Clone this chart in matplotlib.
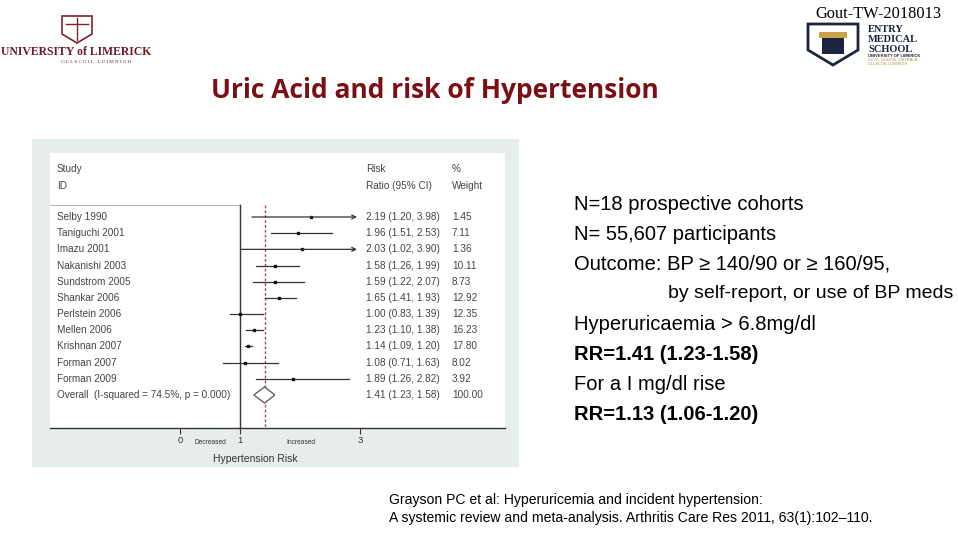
import matplotlib
matplotlib.use("Agg")
import matplotlib.pyplot as plt
import matplotlib.transforms as mtransforms
from matplotlib.patches import Rectangle, Polygon

# ---------------- data ----------------
studies = ["Selby 1990", "Taniguchi 2001", "Imazu 2001", "Nakanishi 2003",
           "Sundstrom 2005", "Shankar 2006", "Perlstein 2006", "Mellen 2006",
           "Krishnan 2007", "Forman 2007", "Forman 2009"]
rr = [2.19, 1.96, 2.03, 1.58, 1.59, 1.65, 1.00, 1.23, 1.14, 1.08, 1.89]
lo = [1.20, 1.51, 1.02, 1.26, 1.22, 1.41, 0.83, 1.10, 1.09, 0.71, 1.26]
hi = [3.98, 2.53, 3.90, 1.99, 2.07, 1.93, 1.39, 1.38, 1.20, 1.63, 2.82]
weights = ["1.45", "7.11", "1.36", "10.11", "8.73", "12.92", "12.35",
           "16.23", "17.80", "8.02", "3.92"]
overall_label = "Overall  (I-squared = 74.5%, p = 0.000)"
overall_rr, overall_lo, overall_hi = 1.41, 1.23, 1.58
overall_weight = "100.00"
x_ticks = [0, 1, 3]
x_clip = 2.95

bullets = [
    ("N=18 prospective cohorts", False, 574, 14.5),
    ("N= 55,607 participants", False, 574, 14.5),
    ("Outcome: BP \u2265 140/90 or \u2265 160/95,", False, 574, 14.5),
    ("by self-report, or use of BP meds", False, 668, 14.0),
    ("Hyperuricaemia > 6.8mg/dl", False, 574, 14.5),
    ("RR=1.41 (1.23-1.58)", True, 574, 14.5),
    ("For a I mg/dl rise", False, 574, 14.5),
    ("RR=1.13 (1.06-1.20)", True, 574, 14.5),
]

W, H = 958, 540
fig = plt.figure(figsize=(W / 100, H / 100), dpi=100)
fig.patch.set_facecolor("white")

# pixel-coordinate overlay
bg = fig.add_axes([0, 0, 1, 1])
bg.set_xlim(0, W)
bg.set_ylim(H, 0)
bg.axis("off")

SANS = ["Liberation Sans", "DejaVu Sans"]

# title
bg.text(211, 91, "Uric Acid and risk of Hypertension", color="#7a1015",
        fontsize=19, fontweight="bold", family=["Open Sans", "DejaVu Sans"],
        va="center", ha="left")
bg.text(942, 14, "Gout-TW-2018013", family=["Liberation Serif"], fontsize=11.8,
        ha="right", va="center", color="black")

# University of Limerick logo (approximation)
crest = Polygon([[62, 16], [92, 16], [92, 34], [77, 43], [62, 34]], closed=True,
                facecolor="white", edgecolor="#7a2433", lw=1.2)
bg.add_patch(crest)
bg.plot([66, 88], [24, 24], color="#7a2433", lw=1)
bg.plot([77, 77], [18, 40], color="#7a2433", lw=1)
bg.text(76, 52, "UNIVERSITY of LIMERICK", family=["Liberation Serif"],
        fontsize=8.5, fontweight="bold", color="#6b1d2a", ha="center", va="center")
bg.text(96, 62, "O L L S C O I L   L U I M N I G H", family=["Liberation Serif"],
        fontsize=3.6, color="#6b1d2a", ha="center", va="center")

# Entry medical school logo (approximation)
shield = Polygon([[808, 24], [858, 24], [858, 50], [833, 65], [808, 50]], closed=True,
                 facecolor="white", edgecolor="#1d2440", lw=2)
bg.add_patch(shield)
bg.add_patch(Rectangle((822, 32), 22, 22, facecolor="#1d2440", edgecolor="none"))
bg.add_patch(Rectangle((819, 32), 28, 6, facecolor="#c9a24a", edgecolor="none"))
for i, t in enumerate(["ENTRY", "MEDICAL", "SCHOOL"]):
    bg.text(868, 30 + i * 10, t, family=["Liberation Serif"], fontsize=7.5,
            fontweight="bold", color="#1d2440", ha="left", va="center")
bg.text(868, 56, "UNIVERSITY OF LIMERICK", family=SANS, fontsize=3.0,
        fontweight="bold", color="#1d2440", ha="left", va="center")
bg.text(868, 60, "SCOIL LEIGHIS IONTRÁLA", family=SANS, fontsize=2.8,
        color="#b09040", ha="left", va="center")
bg.text(868, 64, "OLLSCOIL LUIMNIGH", family=SANS, fontsize=2.8,
        color="#b09040", ha="left", va="center")

# forest plot background
bg.add_patch(Rectangle((32, 139), 487, 328, facecolor="#e7eded", edgecolor="none", zorder=0))
bg.add_patch(Rectangle((50, 153), 455, 275, facecolor="white", edgecolor="none", zorder=0.5))

# forest axes: pixel x = 240 + (x-1)*60 ; rows at 217 + i*16.18
px0, px1 = 50, 505
py_top, py_bot = 153, 428
row0, drow = 217, 16.18
xl = 1 + (px0 - 240) / 60
xr = 1 + (px1 - 240) / 60
yt = (py_top - row0) / drow
yb = (py_bot - row0) / drow
ax = fig.add_axes([px0 / W, (H - py_bot) / H, (px1 - px0) / W, (py_bot - py_top) / H])
ax.patch.set_alpha(0)
ax.set_xlim(xl, xr)
ax.set_ylim(yb, yt)
for s in ["left", "right", "top"]:
    ax.spines[s].set_visible(False)
ax.spines["bottom"].set_color("#333333")
ax.spines["bottom"].set_linewidth(1.0)
ax.set_yticks([])
ax.set_xticks(x_ticks)
ax.set_xticklabels([str(t) for t in x_ticks], fontsize=6.8, family=SANS, color="#333333")
ax.tick_params(axis="x", length=4, width=0.8, color="#333333", pad=2)

tr = mtransforms.blended_transform_factory(bg.transData, ax.transData)
txtc = "#444444"
fs = 7.2

# header
ax.text(57, -2.95, "Study", transform=tr, fontsize=fs, color=txtc, family=SANS, va="center")
ax.text(57, -1.9, "ID", transform=tr, fontsize=fs, color=txtc, family=SANS, va="center")
ax.text(366, -2.95, "Risk", transform=tr, fontsize=fs, color=txtc, family=SANS, va="center")
ax.text(366, -1.9, "Ratio (95% CI)", transform=tr, fontsize=fs, color=txtc, family=SANS, va="center")
ax.text(452, -2.95, "%", transform=tr, fontsize=fs, color=txtc, family=SANS, va="center")
ax.text(452, -1.9, "Weight", transform=tr, fontsize=fs, color=txtc, family=SANS, va="center")

# header separator and null line
ax.plot([xl, 1], [-0.75, -0.75], color="#bbbbbb", lw=0.8)
ax.plot([1, 1], [-0.75, yb], color="#333333", lw=1.0)
ax.plot([overall_rr, overall_rr], [-0.75, yb], color="#b04848", lw=1.0,
        ls=(0, (2, 1.5)))

for i, name in enumerate(studies):
    ax.text(57, i, name, transform=tr, fontsize=fs, color=txtc, family=SANS, va="center")
    ax.text(366, i, f"{rr[i]:.2f} ({lo[i]:.2f}, {hi[i]:.2f})", transform=tr,
            fontsize=fs, color=txtc, family=SANS, va="center")
    ax.text(452, i, weights[i], transform=tr, fontsize=fs, color=txtc, family=SANS, va="center")
    if hi[i] > x_clip:
        ax.annotate("", xy=(x_clip, i), xytext=(lo[i], i),
                    arrowprops=dict(arrowstyle="->", color="#333333", lw=0.9,
                                    shrinkA=0, shrinkB=0, mutation_scale=7))
    else:
        ax.plot([lo[i], hi[i]], [i, i], color="#333333", lw=0.9)
    ax.plot(rr[i], i, marker="s", ms=1.5, color="#111111", mec="#111111")

k = len(studies)
ax.text(57, k, overall_label, transform=tr, fontsize=fs, color=txtc, family=SANS, va="center")
ax.text(366, k, f"{overall_rr:.2f} ({overall_lo:.2f}, {overall_hi:.2f})", transform=tr,
        fontsize=fs, color=txtc, family=SANS, va="center")
ax.text(452, k, overall_weight, transform=tr, fontsize=fs, color=txtc, family=SANS, va="center")
dia = Polygon([[overall_lo, k], [overall_rr, k - 0.5], [overall_hi, k], [overall_rr, k + 0.5]],
              closed=True, facecolor="white", edgecolor="#555555", lw=0.9, zorder=3)
ax.add_patch(dia)

# axis annotations
bg.text(210, 443, "Decreased", fontsize=4.8, family=SANS, color="#333333", ha="center", va="center")
bg.text(301, 443, "Increased", fontsize=4.8, family=SANS, color="#333333", ha="center", va="center")
bg.text(255, 459, "Hypertension Risk", fontsize=7.5, family=SANS, color="#333333", ha="center", va="center")

# right-hand text
for j, (t, bold, xpos, size) in enumerate(bullets):
    bg.text(xpos, 204 + j * 30, t, fontsize=size, family=SANS,
            fontweight="bold" if bold else "normal", color="black",
            ha="left", va="center")

bg.text(389, 500, "Grayson PC et al: Hyperuricemia and incident hypertension:",
        fontsize=10.1, family=SANS, ha="left", va="center")
bg.text(389, 518, "A systemic review and meta-analysis. Arthritis Care Res 2011, 63(1):102\u2013110.",
        fontsize=10.1, family=SANS, ha="left", va="center")

fig.savefig("out.png", dpi=100, facecolor="white")
